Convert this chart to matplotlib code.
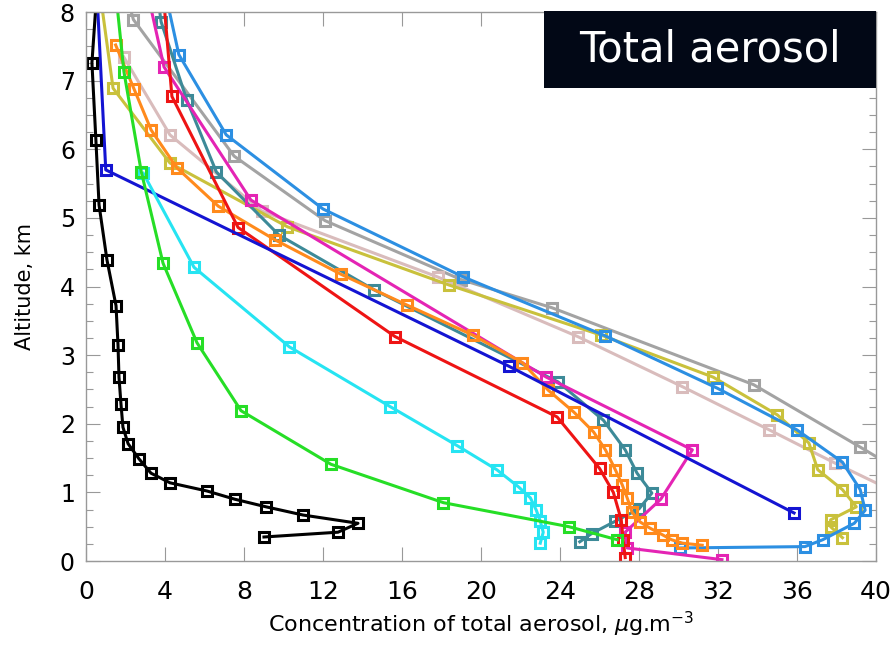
import matplotlib.pyplot as plt
from matplotlib.patches import Rectangle
from matplotlib.ticker import MultipleLocator

# profiles: concentration (ug/m3) and altitude (km)
black_x = [0.55, 0.3, 0.5, 0.66, 1.06, 1.52, 1.62, 1.67, 1.77, 1.87, 2.13, 2.68, 3.29,
           4.25, 6.13, 7.54, 9.11, 10.99, 13.77, 12.76, 9.01]
black_y = [8.3, 7.26, 6.14, 5.19, 4.39, 3.72, 3.15, 2.68, 2.29, 1.95, 1.71, 1.49, 1.28,
           1.14, 1.02, 0.90, 0.79, 0.67, 0.55, 0.42, 0.35]

navy_x = [0.55, 1.0, 21.4, 35.85]
navy_y = [8.3, 5.7, 2.84, 0.70]

green_x = [1.5, 1.92, 2.8, 3.9, 5.62, 7.85, 12.4, 18.1, 24.45, 26.9]
green_y = [8.3, 7.13, 5.67, 4.34, 3.18, 2.19, 1.41, 0.85, 0.50, 0.31]

cyan_x = [2.9, 5.47, 10.3, 15.4, 18.8, 20.8, 21.9, 22.5, 22.8, 23.0, 23.15, 23.0]
cyan_y = [5.65, 4.28, 3.12, 2.25, 1.68, 1.33, 1.08, 0.92, 0.74, 0.58, 0.42, 0.26]

red_x = [3.9, 4.35, 7.7, 15.65, 23.85, 26.0, 26.7, 27.1, 27.2, 27.3]
red_y = [8.3, 6.77, 4.86, 3.27, 2.10, 1.35, 1.0, 0.6, 0.3, 0.05]

magenta_x = [3.1, 3.95, 8.35, 23.3, 30.7, 29.1, 27.3, 27.4, 32.2]
magenta_y = [8.3, 7.2, 5.26, 2.68, 1.62, 0.9, 0.42, 0.19, 0.02]

teal_x = [3.6, 3.8, 5.1, 6.6, 9.77, 14.6, 23.9, 26.2, 27.3, 27.9, 28.65, 28.0, 26.8, 25.6, 25.0]
teal_y = [8.3, 7.86, 6.72, 5.67, 4.75, 3.95, 2.61, 2.05, 1.62, 1.28, 0.99, 0.76, 0.58, 0.40, 0.28]

orange_x = [1.5, 2.43, 3.3, 4.6, 6.7, 9.57, 12.9, 16.25, 19.6, 22.1, 23.4, 24.7, 25.7,
            26.3, 26.8, 27.15, 27.4, 27.65, 28.05, 28.55, 29.2, 29.65, 30.2, 31.2]
orange_y = [7.52, 6.88, 6.28, 5.73, 5.17, 4.68, 4.18, 3.73, 3.29, 2.89, 2.49, 2.17, 1.88,
            1.62, 1.33, 1.11, 0.92, 0.71, 0.57, 0.48, 0.38, 0.31, 0.26, 0.23]

olive_x = [0.7, 1.37, 4.25, 10.2, 18.4, 26.1, 31.75, 35.0, 36.6, 37.05, 38.3, 39.0, 37.7, 37.7, 38.3]
olive_y = [8.3, 6.89, 5.8, 4.87, 4.02, 3.29, 2.68, 2.13, 1.72, 1.33, 1.04, 0.79, 0.60, 0.50, 0.34]

sky_x = [4.0, 4.7, 7.1, 12.0, 19.1, 26.3, 31.95, 36.0, 38.3, 39.2, 39.45, 38.9, 37.3, 36.4, 30.1]
sky_y = [8.3, 7.38, 6.21, 5.13, 4.14, 3.28, 2.52, 1.91, 1.44, 1.04, 0.74, 0.55, 0.31, 0.21, 0.19]

gray_x = [2.0, 2.4, 7.5, 12.1, 19.0, 23.6, 33.8, 39.2, 41.0]
gray_y = [8.3, 7.89, 5.9, 4.96, 4.1, 3.69, 2.57, 1.66, 1.35]

pink_x = [1.9, 4.25, 8.9, 17.8, 24.9, 30.2, 34.6, 37.9, 41.0]
pink_y = [7.35, 6.21, 5.1, 4.14, 3.27, 2.54, 1.91, 1.43, 1.0]

series = [
    (gray_x, gray_y, '#a3a3a3'),
    (pink_x, pink_y, '#d9bcbc'),
    (olive_x, olive_y, '#c9c13c'),
    (sky_x, sky_y, '#2c8fe2'),
    (teal_x, teal_y, '#3d8a98'),
    (magenta_x, magenta_y, '#e424b4'),
    (orange_x, orange_y, '#ff8a1c'),
    (red_x, red_y, '#ee1414'),
    (navy_x, navy_y, '#1414d2'),
    (cyan_x, cyan_y, '#26e4f2'),
    (green_x, green_y, '#26de26'),
    (black_x, black_y, '#000000'),
]

fig = plt.figure(figsize=(8.94, 6.5), dpi=100)
ax = fig.add_axes([0.0962, 0.1369, 0.8837, 0.8446])

for xs, ys, c in series:
    ax.plot(xs, ys, color=c, lw=2.2, marker='s', ms=7, mfc='none', mec=c, mew=2.2)

ax.set_xlim(0, 40)
ax.set_ylim(0, 8)
ax.xaxis.set_major_locator(MultipleLocator(4))
ax.yaxis.set_major_locator(MultipleLocator(1))
ax.yaxis.set_minor_locator(MultipleLocator(0.25))
ax.tick_params(which='both', direction='in', top=True, right=True, color='#999999')
ax.tick_params(which='major', length=10, width=0.8)
ax.tick_params(which='minor', length=5, width=0.8)
ax.tick_params(axis='x', labelsize=18, pad=14)
ax.tick_params(axis='y', labelsize=17, pad=8)
for s in ax.spines.values():
    s.set_color('#999999')
    s.set_linewidth(1.0)

ax.set_xlabel(r'Concentration of total aerosol, $\mu$g.m$^{-3}$', fontsize=16, labelpad=4)
ax.set_ylabel('Altitude, km', fontsize=15, labelpad=18)

# label box, top right
ax.add_patch(Rectangle((0.58, 0.862), 0.42, 0.14, transform=ax.transAxes,
                       facecolor='#020816', edgecolor='none', zorder=10, clip_on=False))
ax.text(0.79, 0.932, 'Total aerosol', transform=ax.transAxes, ha='center', va='center',
        fontsize=30, color='white', zorder=11)

fig.savefig('out.png', dpi=100)
